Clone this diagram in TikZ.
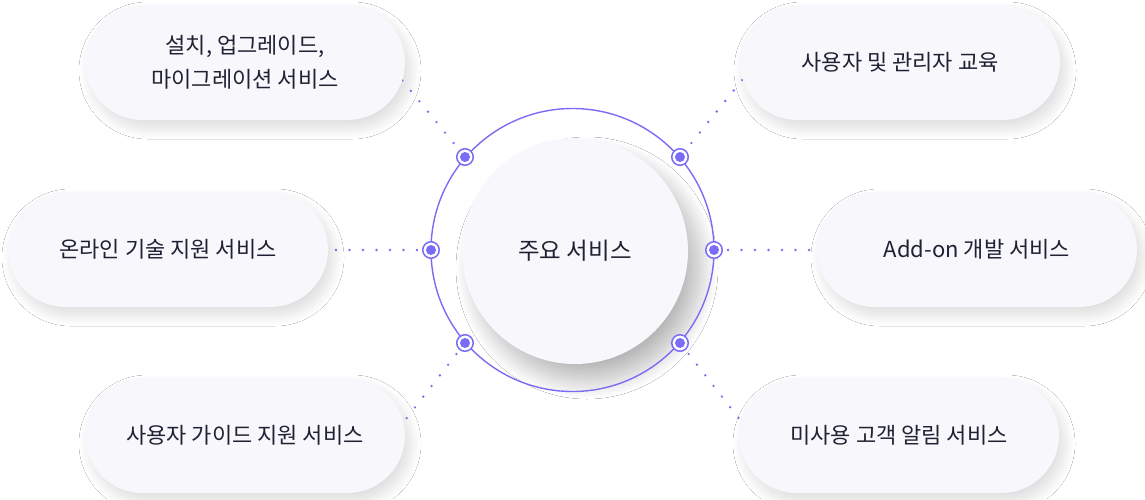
\documentclass[tikz,border=0pt]{standalone}
\usepackage{fontspec}
\setmainfont{Noto Sans CJK KR}
\usetikzlibrary{shadows.blur}
\definecolor{pur}{HTML}{7A6CF5}
\definecolor{pillfill}{HTML}{F7F7FC}
\definecolor{ink}{HTML}{1F2233}
\begin{document}
\begin{tikzpicture}[x=1pt,y=-1pt,
  pillbox/.style={rectangle, rounded corners=57.5pt, minimum width=320pt, minimum height=115pt,
    fill=pillfill, text=ink, font=\fontsize{22}{34}\selectfont, align=center, inner sep=0pt,
    blur shadow={shadow xshift=5pt, shadow yshift=-8pt, shadow blur radius=11pt, shadow blur steps=25, shadow opacity=14}},
  hubbox/.style={circle, minimum size=226pt, inner sep=0pt, fill=pillfill, text=ink,
    font=\fontsize{23.5}{28}\selectfont,
    blur shadow={shadow xshift=12pt, shadow yshift=-17pt, shadow blur radius=18pt, shadow blur steps=25, shadow opacity=28}},
  ringbox/.style={circle, minimum size=283pt, inner sep=0pt, draw=pur, line width=1.4pt},
  marker/.style={circle, draw=pur, fill=white, line width=1.5pt, minimum size=16.5pt, inner sep=0pt,
    path picture={\fill[pur] (path picture bounding box.center) circle (5pt);}},
  dots/.style={draw=pur, line width=2.6pt, line cap=round, dash pattern=on 0pt off 13.5pt},
  near/.style={shorten <=14pt},
  far/.style={shorten <=18pt}]
\fill[white] (0,0) rectangle (1145,499);
\useasboundingbox (0,0) rectangle (1145,499);

% markers' coordinates and connector ends
\coordinate (c1) at (465,157);
\coordinate (c2) at (680,157);
\coordinate (c3) at (431,250);
\coordinate (c4) at (714,250);
\coordinate (c5) at (465,343);
\coordinate (c6) at (680,343);
\coordinate (e1) at (402,80);
\coordinate (e2) at (743,79);
\coordinate (e3) at (333,250);
\coordinate (e4) at (812,250);
\coordinate (e5) at (406,419);
\coordinate (e6) at (741,421);

\draw[dots,far] (c1) -- (e1);
\draw[dots,far] (c2) -- (e2);
\draw[dots,near] (c3) -- (e3);
\draw[dots,near] (c4) -- (e4);
\draw[dots,near] (c5) -- (e5);
\draw[dots,near] (c6) -- (e6);

% pills
\node[pillbox] (p1) at (245,62.5) {설치, 업그레이드,\\마이그레이션 서비스};
\node[pillbox] (p2) at (900,62.5) {사용자 및 관리자 교육};
\node[pillbox] (p3) at (168,249.5) {온라인 기술 지원 서비스};
\node[pillbox] (p4) at (977,249.5) {Add-on 개발 서비스};
\node[pillbox] (p5) at (245,435.5) {사용자 가이드 지원 서비스};
\node[pillbox] (p6) at (899,435.5) {미사용 고객 알림 서비스};

% hub
\node[hubbox] (hub) at (575,251) {주요 서비스};
\node[ringbox] (ring) at (572.5,250) {};

% markers
\node[marker] (m1) at (c1) {};
\node[marker] (m2) at (c2) {};
\node[marker] (m3) at (c3) {};
\node[marker] (m4) at (c4) {};
\node[marker] (m5) at (c5) {};
\node[marker] (m6) at (c6) {};
\end{tikzpicture}
\end{document}
